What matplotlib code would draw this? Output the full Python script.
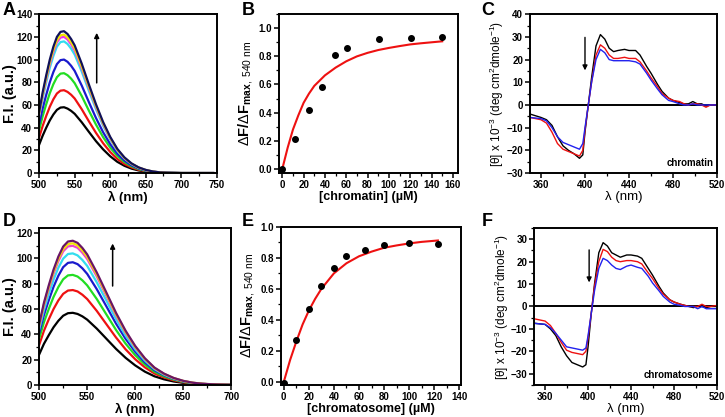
import matplotlib
matplotlib.use('Agg')
import matplotlib.pyplot as plt
from matplotlib.ticker import MultipleLocator

plt.rcParams['font.family'] = ['Liberation Sans', 'DejaVu Sans']
plt.rcParams['mathtext.fontset'] = 'custom'
plt.rcParams['mathtext.rm'] = 'Liberation Sans'
plt.rcParams['mathtext.bf'] = 'Liberation Sans:bold'
plt.rcParams['mathtext.it'] = 'Liberation Sans:italic'

# ---- panel A: fluorescence spectra, chromatin titration
wl_a = [500, 505, 510, 515, 520, 525, 530, 535, 540, 545, 550, 560, 570, 580, 590,
        600, 610, 620, 630, 640, 650, 660, 670, 680, 700, 720, 745]
fl_a = [
    [25, 33, 40, 46.4, 51.6, 55.7, 57.7, 58, 56.8, 54.8, 52.2, 44.7, 36.3, 28.1, 20.9,
     14.8, 9.9, 6.4, 3.9, 2.3, 1.3, 0.6, 0.3, 0.1, 0, 0, 0],
    [31.4, 41.6, 50.4, 58.4, 65, 70.1, 72.6, 73, 71.5, 69, 65.7, 56.2, 45.6, 35.4, 26.3,
     18.6, 12.4, 8, 5, 2.9, 1.6, 0.8, 0.4, 0.1, 0, 0, 0],
    [37.8, 50.2, 60.7, 70.4, 78.3, 84.5, 87.6, 88, 86.2, 83.2, 79.2, 67.8, 55, 42.7, 31.7,
     22.4, 15, 9.7, 6, 3.5, 1.9, 1, 0.4, 0.2, 0, 0, 0],
    [43, 57, 69, 80, 89, 96, 99.5, 100, 98, 94.5, 90, 77, 62.5, 48.5, 36,
     25.5, 17, 11, 6.8, 4, 2.2, 1.1, 0.5, 0.2, 0, 0, 0],
    [49.9, 66.1, 80, 92.8, 103.2, 111.4, 115.4, 116, 113.7, 109.6, 104.4, 89.3, 72.5, 56.3, 41.8,
     29.6, 19.7, 12.8, 7.9, 4.6, 2.6, 1.3, 0.6, 0.2, 0, 0, 0],
    [51.6, 68.4, 82.8, 96, 106.8, 115.2, 119.4, 120, 117.6, 113.4, 108, 92.4, 75, 58.2, 43.2,
     30.6, 20.4, 13.2, 8.2, 4.8, 2.6, 1.3, 0.6, 0.2, 0, 0, 0],
    [52.5, 69.5, 84.2, 97.6, 108.6, 117.1, 121.4, 122, 119.6, 115.3, 109.8, 93.9, 76.3, 59.2, 43.9,
     31.1, 20.7, 13.4, 8.3, 4.9, 2.7, 1.3, 0.6, 0.2, 0, 0, 0],
    [53.8, 71.3, 86.3, 100, 111.3, 120, 124.4, 125, 122.5, 118.1, 112.5, 96.3, 78.1, 60.6, 45,
     31.9, 21.3, 13.8, 8.5, 5, 2.8, 1.4, 0.6, 0.3, 0, 0, 0],
]
colors_a = ['black', '#ee1111', '#22dd22', '#1a1acc', '#33ddee', '#ee33ee', '#f2e600', '#10105a']

# ---- panel D: fluorescence spectra, chromatosome titration
wl_d = [500, 505, 510, 515, 520, 525, 530, 535, 540, 545, 550, 560, 570, 580, 590,
        600, 610, 620, 630, 640, 650, 660, 670, 680, 700]
fl_d = [
    [24, 32.5, 39.3, 45.6, 50.7, 54.7, 56.7, 57, 56.1, 54.2, 51.6, 44.5, 36.5, 28.5, 21.4,
     15.4, 10.5, 6.8, 4.4, 2.7, 1.6, 0.9, 0.5, 0.2, 0],
    [31.5, 42.8, 51.8, 60, 66.8, 72, 74.6, 75, 73.9, 71.3, 67.9, 58.5, 48, 37.5, 28.1,
     20.3, 13.9, 9, 5.9, 3.6, 2.1, 1.1, 0.6, 0.3, 0],
    [36.5, 49.6, 60, 69.6, 77.4, 83.5, 86.6, 87, 85.7, 82.7, 78.7, 67.9, 55.7, 43.5, 32.6,
     23.5, 16.1, 10.4, 6.8, 4.2, 2.4, 1.3, 0.7, 0.3, 0],
    [40.7, 55.3, 66.9, 77.6, 86.3, 93.1, 96.5, 97, 95.5, 92.2, 87.8, 75.7, 62.1, 48.5, 36.4,
     26.2, 17.9, 11.6, 7.6, 4.7, 2.7, 1.5, 0.8, 0.4, 0],
    [43.7, 59.3, 71.8, 83.2, 92.6, 99.8, 103.5, 104, 102.4, 98.8, 94.1, 81.1, 66.6, 52, 39,
     28.1, 19.2, 12.5, 8.1, 5, 2.9, 1.6, 0.8, 0.4, 0],
    [46.2, 62.7, 75.9, 88, 97.9, 105.6, 109.5, 110, 108.4, 104.5, 99.6, 85.8, 70.4, 55, 41.3,
     29.7, 20.4, 13.2, 8.6, 5.3, 3.1, 1.7, 0.9, 0.4, 0],
    [47, 63.8, 77.3, 89.6, 99.7, 107.5, 111.4, 112, 110.3, 106.4, 101.4, 87.4, 71.7, 56, 42,
     30.2, 20.7, 13.4, 8.7, 5.4, 3.1, 1.7, 0.9, 0.4, 0],
    [47.9, 65, 78.7, 91.2, 101.5, 109.4, 113.4, 114, 112.3, 108.3, 103.2, 88.9, 73, 57, 42.8,
     30.8, 21.1, 13.7, 8.9, 5.5, 3.2, 1.7, 0.9, 0.5, 0],
]
colors_d = ['black', '#ee1111', '#22dd22', '#1a1acc', '#33ddee', '#ee44cc', '#f2e600', '#6a1466']

# ---- panel B: binding isotherm, chromatin
conc_b = [0, 12, 25, 37, 49, 61, 91, 121, 150]
frac_b = [0.0, 0.21, 0.42, 0.585, 0.81, 0.86, 0.92, 0.93, 0.935]
fit_x_b = [0, 5, 10, 15, 20, 25, 30, 40, 50, 60, 70, 80, 90, 100, 110, 120, 130, 140, 150]
fit_y_b = [0, 0.15, 0.28, 0.38, 0.47, 0.535, 0.59, 0.665, 0.72, 0.765, 0.80, 0.825, 0.845,
           0.86, 0.873, 0.885, 0.893, 0.90, 0.907]

# ---- panel E: binding isotherm, chromatosome
conc_e = [0, 10, 20, 30, 40, 50, 65, 80, 100, 123]
frac_e = [-0.01, 0.27, 0.47, 0.62, 0.737, 0.814, 0.853, 0.886, 0.896, 0.892]
fit_x_e = [0, 5, 10, 15, 20, 25, 30, 40, 50, 60, 70, 80, 90, 100, 110, 123]
fit_y_e = [0, 0.14, 0.26, 0.37, 0.46, 0.535, 0.6, 0.7, 0.765, 0.81, 0.84, 0.865, 0.88,
           0.893, 0.903, 0.912]

# ---- panels C and F: CD spectra
wl_cd = [350, 360, 365, 370, 375, 380, 385, 390, 395, 398, 400, 403, 406, 410, 414, 418,
         422, 426, 430, 436, 440, 446, 450, 456, 460, 466, 470, 476, 480, 486, 490, 494,
         498, 502, 506, 510, 514, 520]
cd_c_black = [-4, -5.5, -6.5, -9, -14, -18, -20, -21.5, -23.5, -22, -12, 0, 12, 26, 31, 29,
              25, 23.5, 24, 24.5, 24, 24, 22, 17, 14, 9, 6, 3, 2, 1, 0.5, 0.5,
              1.5, 0.5, 0.5, -0.5, 0, 0]
cd_c_red = [-5.5, -6.5, -8, -12, -17, -19.5, -20.5, -21.5, -22.5, -20, -11, 0, 10, 22, 26.5, 25,
            22, 20.5, 20.5, 21, 20.5, 20.5, 19, 15, 12, 8, 5, 3, 2, 1.5, 0.5, 0,
            0.5, 0.5, 0, -1, 0, 0]
cd_c_blue = [-5.5, -6, -7, -10, -14, -16.5, -17.5, -18.5, -19.5, -17, -10, 0, 10, 20, 24.5, 23,
             20, 19.5, 19.5, 19.5, 19.5, 19, 18, 14, 11, 7, 4.5, 2, 1.5, 0.5, 0, 0,
             0.5, 0, 0, 0, 0, 0]
cd_f_black = [-7.5, -8, -10, -13, -18, -22, -25, -26, -27, -26, -18, -3, 10, 24, 28.5, 27,
              24, 23, 22, 23, 23, 22.5, 21.5, 17, 14, 9, 6, 3, 2, 1, 0.5, 0,
              -0.5, 0, 0, -0.5, 0, 0]
cd_f_red = [-5.5, -6.5, -8.5, -12, -16, -19.5, -20.5, -21, -21.5, -20, -14, -3, 9, 20, 25.5, 24.5,
            22, 20.5, 20, 20.5, 20.5, 20, 19, 15, 12.5, 8, 5.5, 3, 2, 1, 0.5, 0,
            0, 0, 1, 0, 0, 0.5]
cd_f_blue = [-7.5, -8, -9.5, -12, -15, -18, -18.5, -19, -19.5, -18.5, -13, -3, 7, 17, 21.5, 20.5,
             18.5, 17, 16.5, 18, 18.5, 17.5, 17, 13.5, 10.5, 7, 4.5, 2, 1, 0.5, 0, 0,
             0, -1, 0, -1, -1, -1]

TICK_FS = 7
LAB_FS = 9


def style_axes(ax, xmaj, xmin, ymaj, ymin):
    for sp in ax.spines.values():
        sp.set_linewidth(1.4)
    ax.xaxis.set_major_locator(MultipleLocator(xmaj))
    ax.xaxis.set_minor_locator(MultipleLocator(xmin))
    ax.yaxis.set_major_locator(MultipleLocator(ymaj))
    ax.yaxis.set_minor_locator(MultipleLocator(ymin))
    ax.tick_params(which='major', direction='out', length=3.5, width=1.1, pad=1.5,
                   labelsize=TICK_FS)
    ax.tick_params(which='minor', direction='out', length=2, width=0.9)
    for lab in ax.get_xticklabels() + ax.get_yticklabels():
        lab.set_fontweight('bold')


fig = plt.figure(figsize=(7.25, 4.17), dpi=100)

# A
ax = fig.add_axes([0.054, 0.585, 0.245, 0.381])
for y, c in zip(fl_a, colors_a):
    ax.plot(wl_a, y, color=c, lw=1.6)
ax.set_xlim(500, 750)
ax.set_ylim(0, 140)
style_axes(ax, 50, 25, 20, 10)
ax.annotate('', xy=(581, 126), xytext=(581, 77),
            arrowprops=dict(arrowstyle='-|>', color='black', lw=1.1, mutation_scale=7))
ax.set_xlabel('λ (nm)', fontsize=LAB_FS + 0.5, fontweight='bold', labelpad=0.5)
ax.set_ylabel('F.I. (a.u.)', fontsize=10.5, fontweight='bold')
ax.yaxis.set_label_coords(-0.125, 0.5)

# D
ax = fig.add_axes([0.054, 0.077, 0.265, 0.376])
for y, c in zip(fl_d, colors_d):
    ax.plot(wl_d, y, color=c, lw=1.6)
ax.set_xlim(500, 700)
style_axes(ax, 50, 25, 20, 10)
ax.set_ylim(0, 124)
ax.annotate('', xy=(576.5, 114), xytext=(576.5, 76),
            arrowprops=dict(arrowstyle='-|>', color='black', lw=1.1, mutation_scale=7))
ax.set_xlabel('λ (nm)', fontsize=LAB_FS + 0.5, fontweight='bold', labelpad=0.5)
ax.set_ylabel('F.I. (a.u.)', fontsize=10.5, fontweight='bold')
ax.yaxis.set_label_coords(-0.116, 0.5)

ylab_frac = r'$\Delta$F/$\Delta$F$_{\mathbf{max},\ \mathrm{540\ nm}}$'

# B
ax = fig.add_axes([0.385, 0.585, 0.247, 0.381])
ax.plot(fit_x_b, fit_y_b, color='#ee1111', lw=1.5, zorder=2)
ax.plot(conc_b, frac_b, 'o', color='black', ms=4, zorder=3)
ax.set_xlim(-3, 165)
ax.set_ylim(-0.03, 1.1)
style_axes(ax, 20, 10, 0.2, 0.1)
ax.set_xlabel('[chromatin] (µM)', fontsize=LAB_FS, fontweight='bold', labelpad=0.5)
ax.set_ylabel(ylab_frac, fontsize=10.5, fontweight='bold')
ax.yaxis.set_label_coords(-0.135, 0.5)

# E
ax = fig.add_axes([0.388, 0.077, 0.248, 0.379])
ax.plot(fit_x_e, fit_y_e, color='#ee1111', lw=1.5, zorder=2)
ax.plot(conc_e, frac_e, 'o', color='black', ms=4, zorder=3)
ax.set_xlim(-2, 141.5)
ax.set_ylim(-0.02, 1.0)
style_axes(ax, 20, 10, 0.2, 0.1)
ax.set_xlabel('[chromatosome] (µM)', fontsize=LAB_FS, fontweight='bold', labelpad=0.5)
ax.set_ylabel(ylab_frac, fontsize=10.5, fontweight='bold')
ax.yaxis.set_label_coords(-0.135, 0.5)

ylab_cd = r'[θ] x 10$^{-3}$ (deg cm$^{2}$dmole$^{-1}$)'

# C
ax = fig.add_axes([0.731, 0.585, 0.258, 0.381])
ax.axhline(0, color='black', lw=1.4, zorder=1)
ax.plot(wl_cd, cd_c_black, color='black', lw=1.0)
ax.plot(wl_cd, cd_c_red, color='#ee1111', lw=1.0)
ax.plot(wl_cd, cd_c_blue, color='#2222ee', lw=1.0)
ax.set_xlim(350, 520)
ax.set_ylim(-30, 40)
style_axes(ax, 40, 20, 10, 5)
ax.annotate('', xy=(400, 14), xytext=(400, 31),
            arrowprops=dict(arrowstyle='-|>', color='black', lw=1.0, mutation_scale=7))
ax.text(0.98, 0.03, 'chromatin', transform=ax.transAxes, ha='right', va='bottom',
        fontsize=7, fontweight='bold')
ax.set_xlabel('λ (nm)', fontsize=LAB_FS + 0.5, labelpad=0.5)
ax.set_ylabel(ylab_cd, fontsize=8.5, labelpad=0)

# F
ax = fig.add_axes([0.737, 0.077, 0.252, 0.376])
ax.axhline(0, color='black', lw=1.4, zorder=1)
ax.plot(wl_cd, cd_f_black, color='black', lw=1.0)
ax.plot(wl_cd, cd_f_red, color='#ee1111', lw=1.0)
ax.plot(wl_cd, cd_f_blue, color='#2222ee', lw=1.0)
ax.set_xlim(350, 520)
ax.set_ylim(-35, 35)
style_axes(ax, 40, 20, 10, 5)
ax.annotate('', xy=(401, 9.5), xytext=(401, 26.5),
            arrowprops=dict(arrowstyle='-|>', color='black', lw=1.0, mutation_scale=7))
ax.text(0.98, 0.03, 'chromatosome', transform=ax.transAxes, ha='right', va='bottom',
        fontsize=7, fontweight='bold')
ax.set_xlabel('λ (nm)', fontsize=LAB_FS + 0.5, labelpad=0.5)
ax.set_ylabel(ylab_cd, fontsize=8.5, labelpad=0)

# panel letters
for x, y, s in [(0.004, 0.995, 'A'), (0.334, 0.995, 'B'), (0.664, 0.995, 'C'),
                (0.004, 0.49, 'D'), (0.334, 0.49, 'E'), (0.664, 0.49, 'F')]:
    fig.text(x, y, s, fontsize=13, fontweight='bold', ha='left', va='top')

fig.savefig('out.png', dpi=100)
